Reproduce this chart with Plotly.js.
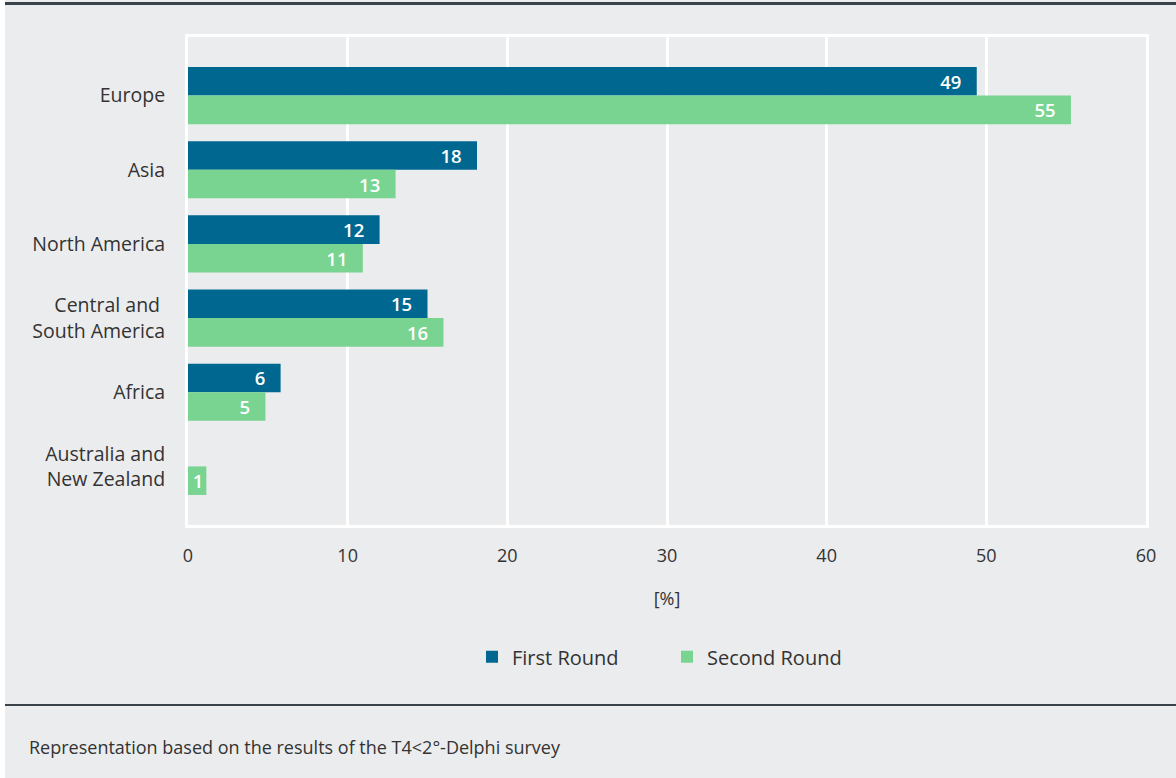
<!DOCTYPE html>
<html>
<head>
<meta charset="utf-8">
<script src="https://cdn.plot.ly/plotly-3.0.1.min.js"></script>
<style>
html,body{margin:0;padding:0;background:#ffffff;}
#chart{position:absolute;left:5px;top:0;width:1171px;height:778px;}
</style>
</head>
<body>
<div id="chart"></div>
<script>
const categories = ["Europe", "Asia", "North America", "Central and <br>South America", "Africa", "Australia and<br>New Zealand"];
const firstRound = [49.4, 18.1, 12.0, 15.0, 5.8, null];
const secondRound = [55.3, 13.0, 10.95, 16.0, 4.85, 1.15];
const firstLabels = ["49", "18", "12", "15", "6", ""];
const secondLabels = ["55", "13", "11", "16", "5", "1"];
const xTicks = [0, 10, 20, 30, 40, 50, 60];
const footer = "Representation based on the results of the T4<2°-Delphi survey";

const FONT = "Open Sans, Noto Sans, sans-serif";
const PAD = "\u2002\u2009";
function padLabels(labels, values) {
  return labels.map((t, i) => (values[i] != null && values[i] > 3) ? t + PAD : t);
}
const labelFont = {color: "#ffffff", size: 18.5, family: FONT, weight: 600};
const traces = [
  {
    type: "bar", orientation: "h", name: "First Round",
    y: categories, x: firstRound, text: padLabels(firstLabels, firstRound),
    textposition: "inside", insidetextanchor: "end", constraintext: "none", textangle: 0,
    textfont: labelFont, marker: {color: "#006890"}, hoverinfo: "x+name"
  },
  {
    type: "bar", orientation: "h", name: "Second Round",
    y: categories, x: secondRound, text: padLabels(secondLabels, secondRound),
    textposition: "inside", insidetextanchor: "end", constraintext: "none", textangle: 0,
    textfont: labelFont, marker: {color: "#79d491"}, hoverinfo: "x+name"
  }
];

const layout = {
  width: 1171, height: 778,
  paper_bgcolor: "#ebecee", plot_bgcolor: "#ebecee",
  margin: {l: 183, r: 30, t: 37, b: 253},
  barmode: "group", bargap: 0.23, bargroupgap: 0,
  font: {family: FONT, color: "#333333", size: 18},
  showlegend: true,
  legend: {
    orientation: "h", x: 0.5, xanchor: "center", y: -0.27, yanchor: "middle",
    font: {size: 20, color: "#333333"}, entrywidth: 150, traceorder: "normal",
    bgcolor: "rgba(0,0,0,0)"
  },
  xaxis: {
    range: [0, 60], tickvals: xTicks, ticktext: xTicks.map(String),
    showgrid: true, gridcolor: "#ffffff", gridwidth: 3,
    showline: true, linecolor: "#ffffff", linewidth: 3, mirror: true,
    zeroline: false, ticks: "", ticklabelstandoff: 12,
    tickfont: {size: 18, color: "#333333"},
    title: {text: "[%]", font: {size: 18, color: "#333333"}, standoff: 27}
  },
  yaxis: {
    type: "category", categoryarray: categories,
    range: [5.79, -0.79],
    showgrid: false, showline: true, linecolor: "#ffffff", linewidth: 3, mirror: true,
    ticks: "", ticklabelstandoff: 16,
    tickfont: {size: 19.5, color: "#333333"}
  },
  annotations: [
    {text: footer, xref: "paper", yref: "paper", x: -0.168, xanchor: "left",
     y: (525 - 747) / 488, yanchor: "middle", showarrow: false,
     font: {family: FONT, size: 18, color: "#333333"}}
  ]
};

Plotly.newPlot("chart", traces, layout, {displayModeBar: false, staticPlot: true});
</script>
<div style="position:absolute;left:5px;top:2px;width:1171px;height:3px;background:#3b434a;"></div>
<div style="position:absolute;left:5px;top:704px;width:1171px;height:2px;background:#3b434a;"></div>
</body>
</html>
